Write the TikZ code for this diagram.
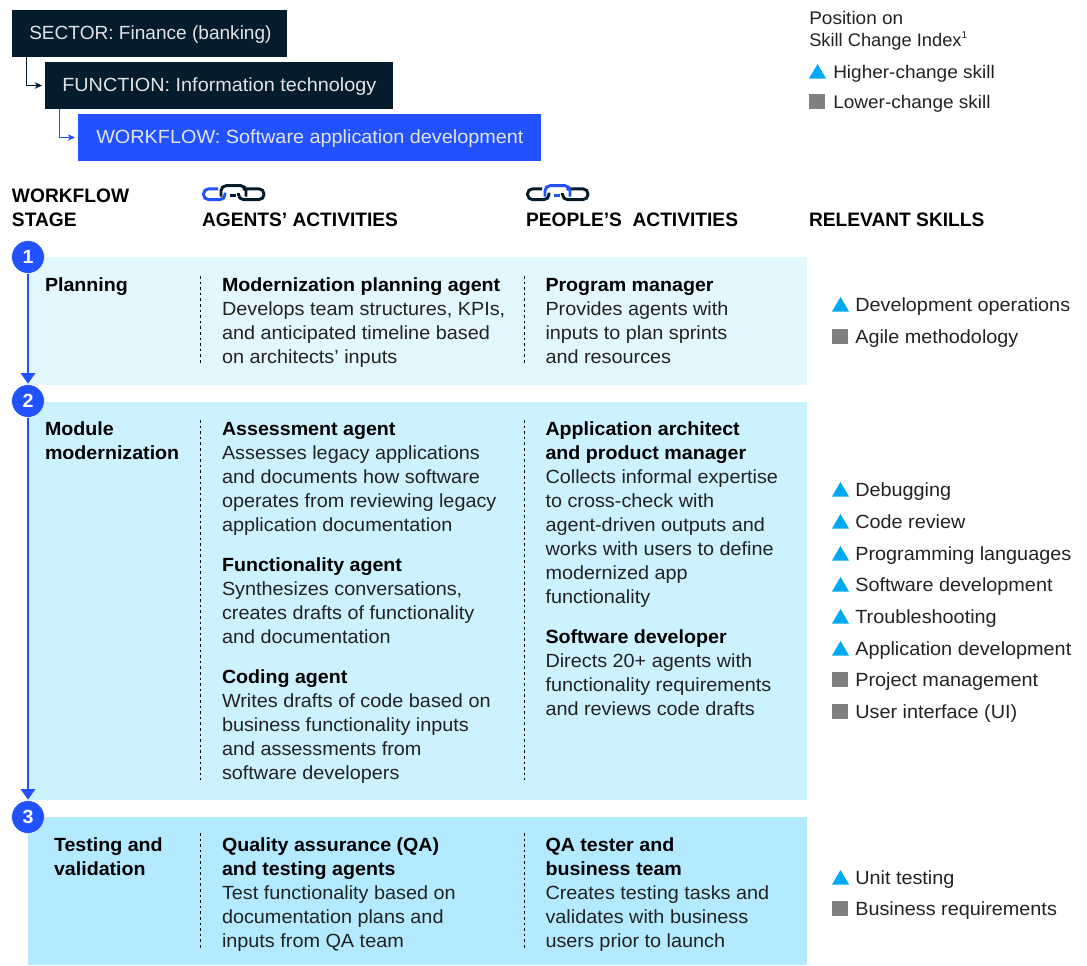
\documentclass[tikz,border=0pt]{standalone}
\usepackage{fontspec}
\setmainfont{Liberation Sans}[FakeStretch=1.04,BoldFeatures={FakeStretch=1.03}]
\newfontface\hdrface{Liberation Sans Bold}[FakeStretch=0.985]
\newfontface\plainface{Liberation Sans}
\usetikzlibrary{arrows.meta}
\definecolor{navy}{HTML}{051C2C}
\definecolor{brand}{HTML}{2251FF}
\definecolor{bandA}{HTML}{E3F7FF}
\definecolor{bandB}{HTML}{CCF1FF}
\definecolor{bandC}{HTML}{B3EAFF}
\definecolor{sky}{HTML}{00A9F4}
\definecolor{stone}{HTML}{7F7F7F}
\definecolor{ink}{HTML}{222222}
\newcommand{\bodyfont}{\fontsize{14.3}{18}\selectfont}
\newcommand{\hdrfont}{\fontsize{14.6}{18}\selectfont\hdrface}
\tikzset{
  x=0.75pt,y=-0.75pt,
  crumb/.style={anchor=north west,inner sep=0pt,outer sep=0pt,minimum height=35.25pt},
  crumbtext/.style={anchor=base west,inner sep=0pt,text=white!88!navy,font=\bodyfont},
  crumbline/.style={line width=1pt,-{Stealth[length=5.5pt,width=5pt]}},
  stagedot/.style={circle,fill=brand,draw=white,line width=0.4pt,minimum size=24.6pt,inner sep=0pt,text=white,font=\bodyfont\bfseries},
  flow/.style={draw=brand,line width=1pt,-{Triangle[length=8pt,width=11pt]},shorten >=0.5pt},
  blk/.style={anchor=north west,inner sep=0pt,outer sep=0pt,align=left,font=\bodyfont,text=ink},
  head/.style={anchor=north west,inner sep=0pt,outer sep=0pt,align=left,font=\bodyfont\bfseries,text=black},
  colhead/.style={anchor=north west,inner sep=0pt,outer sep=0pt,align=left,font=\hdrfont,text=black},
  skill/.style={anchor=base west,inner sep=0pt,font=\bodyfont,text=ink},
  leg/.style={anchor=base west,inner sep=0pt,font=\fontsize{13.7}{16.5}\selectfont,text=ink},
  sep/.style={draw=black,line width=0.7pt,dash pattern=on 2pt off 2.2pt},
  lnk/.style={line width=2.2pt,rounded corners=3.8pt},
}
% #1 style, #2 name, #3 x, #4 first baseline, #5 text
\newcommand{\tb}[5][blk]{\node[#1] (#2) at (#3,#4-16.8) {\strut #5\strut};}
\newcommand{\titl}[1]{\textbf{\textcolor{black}{#1}}}
\newcommand{\triA}[2]{\fill[sky] (#1,#2+0.5) -- (#1+17,#2+0.5) -- (#1+8.5,#2-14) -- cycle;}
\newcommand{\sqB}[2]{\fill[stone] (#1,#2-14.5) rectangle (#1+16,#2+1);}
\newcommand{\chain}[4]{%
  \begin{scope}[shift={(#1,0)}]
    \draw[lnk,draw=#2] (15,188.8) -- (0.5,188.8) -- (0.5,199.6) -- (22,199.6) -- (22,192.5);
    \draw[lnk,draw=#4] (39.5,188.8) -- (61,188.8) -- (61,199.6) -- (35.5,199.6) -- (35.5,193);
    \draw[lnk,draw=#3] (18,196.5) -- (18,185.7) -- (43,185.7) -- (43,196.5);
    \draw[draw=#3,line width=2.2pt] (27,195.7) -- (33,195.7);
  \end{scope}}
\begin{document}
\begin{tikzpicture}
\useasboundingbox (0,0) rectangle (1087,965);
% bands
\fill[bandA] (28,257) rectangle (807,385);
\fill[bandB] (28,402) rectangle (807,800);
\fill[bandC] (28,817) rectangle (807,965);
% breadcrumb boxes
\node[crumb,fill=navy,minimum width=206.25pt] (sector) at (12,10) {};
\node[crumb,fill=navy,minimum width=261pt] (function) at (45,62) {};
\node[crumb,fill=brand,minimum width=347.25pt] (workflow) at (78,114) {};
\node[crumbtext] (sectortext) at (29,39.5) {\plainface SECTOR: Finance (banking)};
\node[crumbtext] (functiontext) at (62,91.5) {FUNCTION: Information technology};
\node[crumbtext] (workflowtext) at (96,143.5) {WORKFLOW: Software application development};
\coordinate (sectordrop) at (26.5,57);
\coordinate (functiondrop) at (59.5,109);
\draw[crumbline,draw=navy] (sectordrop) |- ([xshift=-2.25pt]function.west);
\draw[crumbline,draw=brand] (functiondrop) |- ([xshift=-2.25pt]workflow.west);
% legend
\node[leg] (legA) at (809,24) {Position on};
\node[leg] (legB) at (809,46) {\plainface Skill Change Index{\raisebox{5.6pt}{\fontsize{7.5}{9}\selectfont 1}}};
\triA{809}{78}
\node[leg] (legC) at (833,78) {Higher-change skill};
\sqB{809}{108}
\node[leg] (legD) at (833,108) {Lower-change skill};
% column headers
\node[colhead] (hA) at (12,202-16.8) {\strut WORKFLOW\\STAGE\strut};
\node[colhead] (hB) at (202,226-16.8) {\strut AGENTS’ ACTIVITIES\strut};
\node[colhead] (hC) at (526,226-16.8) {\strut PEOPLE’S\ \ ACTIVITIES\strut};
\node[colhead] (hD) at (809,226-16.8) {\strut RELEVANT SKILLS\strut};
\chain{203}{brand}{navy}{navy}
\chain{527}{navy}{brand}{navy}
% stage flow
\node[stagedot] (s1) at (28,257) {1};
\node[stagedot] (s2) at (28,401) {2};
\node[stagedot] (s3) at (28,817) {3};
\draw[flow] (s1) -- (s2);
\draw[flow] (s2) -- (s3);
% stage names
\tb[head]{stA}{45}{291}{Planning}
\tb[head]{stB}{45}{435}{Module\\modernization}
\tb[head]{stC}{54}{851}{Testing and\\validation}
% separators
\coordinate (a1t) at (200.5,276); \coordinate (a1b) at (200.5,365);
\coordinate (p1t) at (524.5,276); \coordinate (p1b) at (524.5,365);
\coordinate (a2t) at (200.5,420); \coordinate (a2b) at (200.5,780);
\coordinate (p2t) at (524.5,420); \coordinate (p2b) at (524.5,780);
\coordinate (a3t) at (200.5,833); \coordinate (a3b) at (200.5,948);
\coordinate (p3t) at (524.5,833); \coordinate (p3b) at (524.5,948);
\draw[sep] (a1t) -- (a1b); \draw[sep] (p1t) -- (p1b);
\draw[sep] (a2t) -- (a2b); \draw[sep] (p2t) -- (p2b);
\draw[sep] (a3t) -- (a3b); \draw[sep] (p3t) -- (p3b);
% agents
\tb{ag1}{222}{291}{\titl{Modernization planning agent}\\Develops team structures, KPIs,\\and anticipated timeline based\\on architects’ inputs}
\tb{ag2}{222}{435}{\titl{Assessment agent}\\Assesses legacy applications\\and documents how software\\operates from reviewing legacy\\application documentation}
\tb{ag3}{222}{571}{\titl{Functionality agent}\\Synthesizes conversations,\\creates drafts of functionality\\and documentation}
\tb{ag4}{222}{683}{\titl{Coding agent}\\Writes drafts of code based on\\business functionality inputs\\and assessments from\\software developers}
\tb{ag5}{222}{851}{\titl{Quality assurance (QA)}\\\titl{and testing agents}\\Test functionality based on\\documentation plans and\\inputs from QA team}
% people
\tb{pe1}{545.5}{291}{\titl{Program manager}\\Provides agents with\\inputs to plan sprints\\and resources}
\tb{pe2}{545.5}{435}{\titl{Application architect}\\\titl{and product manager}\\Collects informal expertise\\to cross-check with\\agent-driven outputs and\\works with users to define\\modernized app\\functionality}
\tb{pe3}{545.5}{643}{\titl{Software developer}\\Directs 20+ agents with\\functionality requirements\\and reviews code drafts}
\tb{pe4}{545.5}{851}{\titl{QA tester and}\\\titl{business team}\\Creates testing tasks and\\validates with business\\users prior to launch}
% skills
\triA{832}{311}\node[skill] (k1) at (855,311) {Development operations};
\sqB{832}{343}\node[skill] (k2) at (855,343) {Agile methodology};
\triA{832}{496}\node[skill] (k3) at (855,496) {Debugging};
\triA{832}{528}\node[skill] (k4) at (855,528) {Code review};
\triA{832}{560}\node[skill] (k5) at (855,560) {Programming languages};
\triA{832}{591}\node[skill] (k6) at (855,591) {Software development};
\triA{832}{623}\node[skill] (k7) at (855,623) {Troubleshooting};
\triA{832}{655}\node[skill] (k8) at (855,655) {Application development};
\sqB{832}{686}\node[skill] (k9) at (855,686) {Project management};
\sqB{832}{718}\node[skill] (k10) at (855,718) {User interface (UI)};
\triA{832}{884}\node[skill] (k11) at (855,884) {Unit testing};
\sqB{832}{915}\node[skill] (k12) at (855,915) {Business requirements};
\end{tikzpicture}
\end{document}
